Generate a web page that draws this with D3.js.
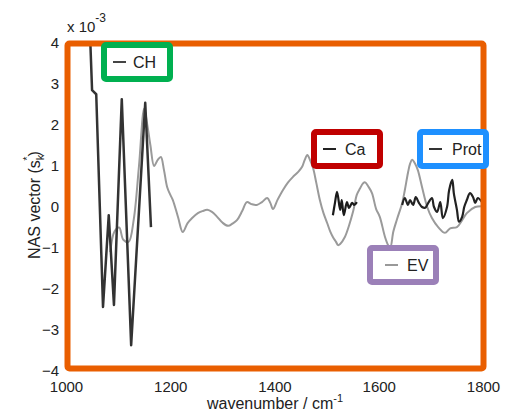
<!DOCTYPE html>
<html><head><meta charset="utf-8">
<script src="https://cdn.jsdelivr.net/npm/d3@7"></script>
<style>body{margin:0;background:#fff}svg{display:block}text{font-family:"Liberation Sans",Arial,sans-serif}</style>
</head><body>
<svg id="c" width="514" height="415"></svg>
<script>
// ---- data (values in units of 1e-3) ----
const xTicks = [1000, 1200, 1400, 1600, 1800];
const yTicks = [-4, -3, -2, -1, 0, 1, 2, 3, 4];
const chWave = [1044, 1047, 1050, 1058, 1071, 1082, 1092, 1107, 1125, 1152, 1163];
const chVal  = [4.6, 3.9, 2.85, 2.75, -2.44, -0.2, -2.39, 2.63, -3.37, 2.54, -0.49];
const caWave = [1512, 1516, 1520, 1526, 1529, 1533, 1539, 1543, 1549, 1553, 1558];
const caVal  = [-0.2, 0.1, 0.37, -0.07, 0.17, -0.2, 0.12, -0.02, 0.1, 0.05, 0.12];
const protWave = [1645, 1650, 1656, 1660, 1666, 1671, 1677, 1683, 1689, 1695, 1702, 1706, 1712, 1718, 1723, 1731, 1735, 1741, 1744, 1750, 1754, 1760, 1764, 1769, 1775, 1781, 1785, 1790, 1798];
const protVal  = [0.05, 0.22, 0.05, 0.17, 0.05, 0.24, 0.1, 0, -0.02, 0.1, 0.22, 0, -0.12, 0.12, -0.27, 0, 0.41, 0.66, 0.34, -0.07, -0.36, -0.24, 0, 0.17, 0.34, 0.24, 0.1, 0.22, 0.12];
const evWave = [1085, 1093, 1102, 1110, 1120, 1130, 1140, 1150, 1156, 1162, 1169, 1176, 1182, 1188, 1194, 1200, 1205, 1215, 1224, 1233, 1242, 1253, 1262, 1271, 1280, 1290, 1300, 1311, 1320, 1328, 1338, 1347, 1356, 1366, 1376, 1386, 1392, 1397, 1406, 1416, 1426, 1435, 1445, 1453, 1458, 1463, 1468, 1474, 1480, 1487, 1494, 1501, 1507, 1512, 1518, 1522, 1526, 1535, 1543, 1551, 1558, 1564, 1570, 1574, 1580, 1587, 1595, 1602, 1612, 1618, 1622, 1628, 1635, 1645, 1650, 1656, 1660, 1664, 1670, 1675, 1683, 1693, 1702, 1714, 1727, 1737, 1750, 1760, 1769, 1785, 1798];
const evVal  = [-1.1, -0.6, -0.5, -0.8, -0.85, -0.3, 1.0, 2.4, 2.0, 1.5, 1.0, 1.15, 1.22, 0.9, 0.49, 0.3, 0.17, -0.25, -0.61, -0.4, -0.27, -0.15, -0.1, -0.07, -0.12, -0.24, -0.38, -0.46, -0.4, -0.32, -0.1, 0.12, 0.07, 0.05, 0.12, 0.22, 0.1, -0.05, 0.18, 0.41, 0.6, 0.73, 0.85, 0.98, 1.15, 1.27, 1.15, 0.95, 0.6, 0.17, -0.15, -0.39, -0.6, -0.73, -0.85, -0.93, -0.9, -0.73, -0.45, -0.1, 0.3, 0.45, 0.58, 0.6, 0.5, 0.34, -0.05, -0.24, -0.73, -0.93, -1.0, -0.6, -0.3, 0.1, 0.41, 0.83, 1.05, 1.15, 1.05, 0.9, 0.49, 0, -0.27, -0.49, -0.63, -0.52, -0.49, -0.32, -0.15, 0.0, 0.02];
const legends = ["CH", "Ca", "Prot", "EV"];

const svg = d3.select("#c");
const font = '"Liberation Sans",Arial,sans-serif';
const x = d3.scaleLinear().domain([1000, 1800]).range([66, 483]);
const y = d3.scaleLinear().domain([-4, 4]).range([371, 43]);

svg.append("defs").append("clipPath").attr("id", "clip")
  .append("rect").attr("x", 66).attr("y", 43).attr("width", 417).attr("height", 328);

// axes (tick labels only)
const xa = svg.append("g").attr("transform", "translate(0,371)")
  .call(d3.axisBottom(x).tickValues(xTicks).tickFormat(d3.format("d")).tickSize(0).tickPadding(10));
xa.select(".domain").remove();
xa.selectAll("text").attr("font-size", 15).attr("fill", "#222").style("font-family", font);
const ya = svg.append("g").attr("transform", "translate(66,0)")
  .call(d3.axisLeft(y).tickValues(yTicks).tickFormat(d3.format("d")).tickSize(0).tickPadding(7));
ya.select(".domain").remove();
ya.selectAll("text").attr("font-size", 15).attr("fill", "#222").style("font-family", font);

// exponent
const ex = svg.append("text").attr("x", 67).attr("y", 32).attr("font-size", 15).attr("fill", "#222");
ex.append("tspan").text("x 10");
ex.append("tspan").attr("dy", -10).attr("font-size", 12).text("-3");

// axis titles
const xt = svg.append("text").attr("x", 275).attr("y", 409).attr("text-anchor", "middle")
  .attr("font-size", 16).attr("fill", "#222");
xt.append("tspan").text("wavenumber / cm");
xt.append("tspan").attr("dy", -7).attr("font-size", 11).text("-1");

const yt = svg.append("text").attr("transform", "translate(40,205) rotate(-90)")
  .attr("text-anchor", "middle").attr("font-size", 16).attr("fill", "#222");
yt.append("tspan").text("NAS vector (s");
yt.append("tspan").attr("dy", 4).attr("font-size", 11).text("k");
yt.append("tspan").attr("dx", -6).attr("dy", -13).attr("font-size", 11).text("*");
yt.append("tspan").attr("dy", 9).text(")");

// lines
const plot = svg.append("g").attr("clip-path", "url(#clip)");
function draw(w, v, color, width, curve) {
  const line = d3.line().x(d => x(d[0])).y(d => y(d[1])).curve(curve);
  plot.append("path").datum(w.map((d, i) => [d, v[i]]))
    .attr("d", line).attr("fill", "none").attr("stroke", color)
    .attr("stroke-width", width).attr("stroke-linejoin", "round");
}
draw(evWave, evVal, "#9a9a9a", 2, d3.curveCatmullRom);
draw(chWave, chVal, "#333", 2.5, d3.curveLinear);
draw(caWave, caVal, "#1a1a1a", 2.2, d3.curveCatmullRom);
draw(protWave, protVal, "#222", 2.2, d3.curveCatmullRom);

// orange frame
svg.append("rect").attr("x", 67.5).attr("y", 43.5).attr("width", 416).attr("height", 325)
  .attr("rx", 2).attr("fill", "none").attr("stroke", "#e95e00").attr("stroke-width", 6);

// legend boxes
const boxes = [
  {name: legends[0], bx: 104, by: 45, color: "#00b050", line: "#444", tx: 29},
  {name: legends[1], bx: 314, by: 132, color: "#c00000", line: "#222", tx: 31},
  {name: legends[2], bx: 420, by: 132, color: "#1e90ff", line: "#333", tx: 32},
  {name: legends[3], bx: 370, by: 248, color: "#9b80b8", line: "#999", tx: 37}
];
boxes.forEach(b => {
  const g = svg.append("g");
  g.append("rect").attr("x", b.bx).attr("y", b.by).attr("width", 66).attr("height", 34)
    .attr("fill", "#fff");
  const cy = b.by + 17;
  const lx = b.name === "EV" ? 15 : 9;
  g.append("line").attr("x1", b.bx + lx).attr("x2", b.bx + lx + 13).attr("y1", cy).attr("y2", cy)
    .attr("stroke", b.line).attr("stroke-width", 2);
  g.append("text").attr("x", b.bx + b.tx).attr("y", cy + 6).attr("font-size", 16)
    .attr("fill", "#222").text(b.name);
  g.append("rect").attr("x", b.bx).attr("y", b.by).attr("width", 66).attr("height", 34)
    .attr("rx", 2).attr("fill", "none").attr("stroke", b.color).attr("stroke-width", 6);
});
</script>
</body></html>
